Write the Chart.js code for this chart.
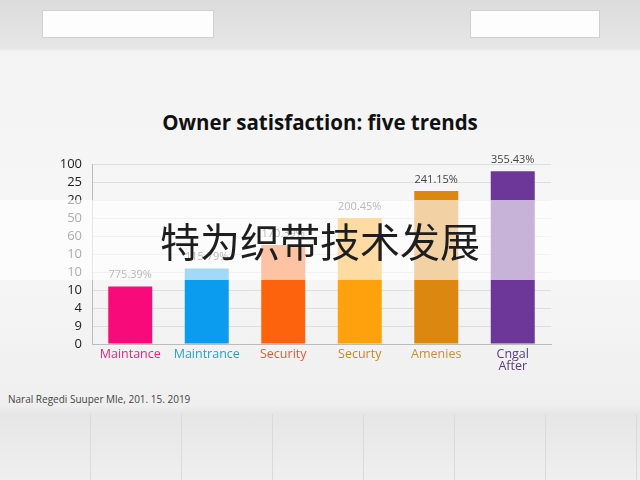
<!DOCTYPE html>
<html lang="en">
<head>
  <title>Owner satisfaction: five trends</title>
  <script src="https://cdn.jsdelivr.net/npm/chart.js"></script>
  <style>
    html, body { margin: 0; padding: 0; }
    body {
      width: 640px; height: 480px; position: relative; overflow: hidden;
      font-family: "Open Sans", "Noto Sans", Arial, sans-serif;
      background: linear-gradient(#dcdcdc 0px, #e6e6e6 48px, #f3f3f3 52px, #f7f7f7 250px, #efefef 405px, #e6e6e6 414px, #efefef 480px);
    }
    .lamp { position: absolute; top: 10px; height: 26px; background: #fdfdfd; border: 1px solid #d0d0d0; }
    .floor { position: absolute; left: 0; top: 414px; width: 640px; height: 66px;
      background: repeating-linear-gradient(90deg, transparent 0 90px, #dadada 90px 91px); }
    .title { position: absolute; left: 0; top: 108px; width: 640px; text-align: center;
      font-size: 20.5px; font-weight: bold; color: #111; line-height: 28px; }
    .chart-box { position: absolute; left: 0; top: 100px; width: 640px; height: 280px; }
    .note { position: absolute; left: 8px; top: 392px; font-size: 10px; color: #444; }
    .band { position: absolute; left: 0; top: 200px; width: 640px; height: 80px;
      background: rgba(255,255,255,0.62); }
    .band span { position: absolute; left: 0; width: 640px; top: 17px; text-align: center;
      font-family: "Noto Sans CJK SC", sans-serif; font-size: 40px; line-height: 46px; color: #1e1e1e; }
  </style>
</head>
<body>
  <div class="lamp" style="left:42px;width:170px"></div>
  <div class="lamp" style="left:470px;width:128px"></div>
  <div class="floor"></div>
  <div class="title">Owner satisfaction: five trends</div>
  <div class="chart-box"><canvas id="ownerChart"></canvas></div>
  <div class="note">Naral Regedi Suuper Mle, 201. 15. 2019</div>
  <div class="band"><span>特为织带技术发展</span></div>

  <script>
    // chart data
    const categories = ['Maintance', 'Maintrance', 'Security', 'Securty', 'Amenies', ['Cngal', 'After']];
    const values = [3.2, 4.2, 5.5, 7.0, 8.5, 9.6];
    const valueLabels = ['775.39%', '115.79%', '170.39%', '200.45%', '241.15%', '355.43%'];
    const yTickLabels = ['0', '9', '4', '10', '10', '10', '60', '50', '20', '25', '100'];

    const barColors = ['#f80a7a', '#0b9bef', '#fd620d', '#fda10c', '#dc8810', '#6c3799'];
    const labelColors = ['#e3287c', '#2a9fc6', '#de5a3c', '#c08a24', '#c8902e', '#5b3a80'];

    // draws the percentage text over each bar
    const valueLabelPlugin = {
      id: 'valueLabels',
      afterDatasetsDraw(chart) {
        const ctx = chart.ctx;
        const meta = chart.getDatasetMeta(0);
        ctx.save();
        ctx.font = '11px "Open Sans", sans-serif';
        ctx.fillStyle = '#444';
        ctx.textAlign = 'center';
        ctx.textBaseline = 'bottom';
        meta.data.forEach((bar, i) => {
          ctx.fillText(valueLabels[i], bar.x, bar.y - 6);
        });
        ctx.restore();
      }
    };

    const ctx = document.getElementById('ownerChart').getContext('2d');
    new Chart(ctx, {
      type: 'bar',
      data: {
        labels: categories,
        datasets: [{
          data: values,
          backgroundColor: barColors,
          borderWidth: 0,
          barPercentage: 0.575,
          categoryPercentage: 1
        }]
      },
      options: {
        responsive: true,
        maintainAspectRatio: false,
        animation: false,
        layout: { padding: { left: 30, right: 89, top: 64, bottom: 0 } },
        plugins: {
          legend: { display: false },
          tooltip: { enabled: false },
          title: { display: false }
        },
        scales: {
          x: {
            grid: { display: false },
            border: { color: '#bbb' },
            ticks: {
              color: labelColors,
              padding: -4,
              font: { family: '"Open Sans", sans-serif', size: 12.5, lineHeight: 1.0 }
            },
            afterFit(scale) { scale.height = 36; }
          },
          y: {
            min: 0,
            max: 10,
            ticks: {
              stepSize: 1,
              autoSkip: false,
              padding: 10,
              color: '#222',
              font: { family: '"Open Sans", sans-serif', size: 13 },
              callback: (v) => yTickLabels[v]
            },
            grid: { color: '#dedede', drawTicks: false },
            border: { color: '#bbb' },
            afterFit(scale) { scale.width = 62; }
          }
        }
      },
      plugins: [valueLabelPlugin]
    });
  </script>
</body>
</html>
